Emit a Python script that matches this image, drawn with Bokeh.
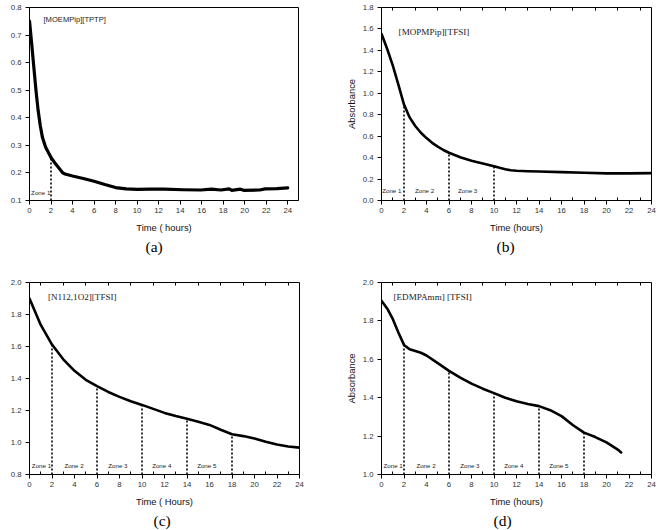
import numpy as np
from bokeh.plotting import figure
from bokeh.layouts import column, row
from bokeh.models import Range1d, FixedTicker, PrintfTickFormatter, Label, LinearAxis, Title
from bokeh.core.properties import value
from bokeh.embed import file_html
from bokeh.resources import INLINE

# ---------------- data ----------------
# (a) [MOEMPip][TPTP]
time_a = [0, 0.2, 0.4, 0.6, 0.8, 1.0, 1.2, 1.5, 2.0, 2.4, 2.9, 3.1, 3.3, 4, 5, 6, 7, 8, 9, 10,
          11.2, 12.5, 14.3, 15.9, 16.9, 17.8, 18.55, 18.8, 19.6, 19.9, 21.4, 21.9, 23, 24]
abs_a = [0.751, 0.67, 0.585, 0.50, 0.427, 0.372, 0.329, 0.293, 0.256, 0.234, 0.210, 0.200, 0.196,
         0.189, 0.180, 0.170, 0.158, 0.147, 0.142, 0.140,
         0.141, 0.141, 0.139, 0.138, 0.141, 0.138, 0.142, 0.137, 0.141, 0.137, 0.138, 0.142,
         0.143, 0.146]
zones_a = [2]
zone_text_a = ["Zone 1"]
zone_x_a = [0.15]

# (b) [MOPMPip][TFSI]
time_b = [0, 0.5, 1, 1.5, 2, 2.5, 3, 3.5, 4, 4.5, 5, 5.5, 6, 7, 8, 9, 10, 10.5, 11, 11.5, 12,
          13, 14, 16, 18, 20, 22, 24]
abs_b = [1.555, 1.415, 1.26, 1.08, 0.895, 0.775, 0.695, 0.632, 0.582, 0.538, 0.502, 0.471,
         0.445, 0.404, 0.371, 0.345, 0.320, 0.305, 0.292, 0.282, 0.277, 0.273, 0.270, 0.265,
         0.259, 0.253, 0.253, 0.255]
zones_b = [2, 6, 10]
zone_text_b = ["Zone 1", "Zone 2", "Zone 3"]
zone_x_b = [0.06, 2.97, 6.8]

# (c) [N112,1O2][TFSI]
time_c = list(range(0, 25))
abs_c = [1.90, 1.735, 1.612, 1.52, 1.448, 1.392, 1.352, 1.316, 1.285, 1.258, 1.235, 1.21,
         1.185, 1.165, 1.148, 1.13, 1.11, 1.08, 1.052, 1.04, 1.025, 1.005, 0.987, 0.975, 0.968]
zones_c = [2, 6, 10, 14, 18]
zone_text_c = ["Zone 1", "Zone 2", "Zone 3", "Zone 4", "Zone 5"]
zone_x_c = [0.21, 3.1, 7.0, 10.9, 14.9]

# (d) [EDMPAmm] [TFSI]
time_d = [0, 0.5, 1, 1.5, 2, 2.5, 3, 3.5, 4, 5, 6, 7, 8, 9, 10, 11, 12, 13, 14, 15, 16, 17,
          18, 19, 20, 21, 21.3]
abs_d = [1.905, 1.865, 1.81, 1.74, 1.675, 1.652, 1.643, 1.634, 1.62, 1.58, 1.54, 1.505, 1.473,
         1.447, 1.424, 1.40, 1.381, 1.367, 1.356, 1.335, 1.304, 1.258, 1.218, 1.195, 1.167,
         1.13, 1.115]
zones_d = [2, 6, 10, 14, 18]
zone_text_d = ["Zone 1", "Zone 2", "Zone 3", "Zone 4", "Zone 5"]
zone_x_d = [0.18, 3.1, 7.0, 10.9, 14.9]

x_ticks = list(range(0, 25, 2))
x_minor = list(range(1, 24, 2))

SANS = "Liberation Sans"
SERIF = "Liberation Serif"


def panel(t, a, xr, yr, yticks, borders, name, name_xy, name_font, name_size,
          zones, zone_text, zone_x, zone_y, xlabel, ylabel_inside, letter, letter_offset,
          line_w, minor, ylabel_x=None):
    left, right, top, bottom = borders
    p = figure(width=332, height=265, x_range=Range1d(*xr), y_range=Range1d(*yr),
               output_backend="svg", toolbar_location=None,
               min_border_left=left, min_border_right=right,
               min_border_top=top, min_border_bottom=bottom)
    p.grid.visible = False
    p.outline_line_color = "black"
    p.outline_line_width = 1
    p.background_fill_color = "white"
    p.border_fill_color = "white"

    # axes
    p.xaxis.ticker = FixedTicker(ticks=x_ticks, minor_ticks=x_minor if minor else [])
    p.xaxis.formatter = PrintfTickFormatter(format="%d")
    p.yaxis.ticker = FixedTicker(ticks=yticks, minor_ticks=[])
    p.yaxis.formatter = PrintfTickFormatter(format="%.1f")
    for ax in (p.xaxis[0], p.yaxis[0]):
        ax.axis_line_color = "black"
        ax.major_tick_line_color = "black"
        ax.minor_tick_line_color = "black"
        ax.major_tick_in = 0
        ax.major_tick_out = 4
        ax.minor_tick_in = 3
        ax.minor_tick_out = 0
        ax.major_label_text_font = SANS
        ax.major_label_text_font_size = "7.8px"
        ax.major_label_text_color = "#333333"
        ax.axis_label_text_font = SANS
        ax.axis_label_text_font_size = "9.4px"
        ax.axis_label_text_font_style = "normal"
        ax.axis_label_text_color = "#111111"
    p.xaxis.major_label_standoff = 3
    p.yaxis.major_label_standoff = 4
    p.xaxis.axis_label = xlabel
    p.xaxis.axis_label_standoff = 6

    if ylabel_inside:
        p.yaxis.axis_label = "Absorbance"
        p.yaxis.axis_label_standoff = 3
    else:
        p.add_layout(Label(x=ylabel_x, y=(yr[0] + yr[1]) / 2, text="Absorbance",
                           angle=np.pi / 2, text_align="center", text_baseline="middle",
                           text_font=SANS, text_font_size="9.4px", text_color="#111111"))

    if minor:
        # inward ticks along the top edge at the odd hours
        top_ax = LinearAxis(ticker=FixedTicker(ticks=[], minor_ticks=x_minor),
                            axis_line_color=None, major_tick_in=0, major_tick_out=0,
                            minor_tick_in=3, minor_tick_out=0,
                            minor_tick_line_color="black", major_label_standoff=0)
        p.add_layout(top_ax, "above")

    # dotted zone boundaries, from the axis up to the curve
    tops = np.interp(zones, t, a)
    p.segment(x0=zones, y0=[yr[0]] * len(zones), x1=zones, y1=list(tops),
              line_color="black", line_width=1.6, line_dash="2 2")

    # absorbance curve
    p.line(t, a, line_color="black", line_width=line_w, line_join="round", line_cap="round")

    # zone names
    p.text(x=zone_x, y=[zone_y] * len(zone_x), text=zone_text,
           text_font=value(SANS), text_font_size="6.2px",
           text_color="#222222", text_align="left", text_baseline="middle")

    # compound name
    p.add_layout(Label(x=name_xy[0], y=name_xy[1], text=name, text_font=name_font,
                       text_font_size=name_size, text_color="#222222",
                       text_align="left", text_baseline="middle"))

    # panel letter under the x axis title
    p.add_layout(Title(text=letter, align="left", text_font=SERIF,
                       text_font_size="15.5px", text_font_style="normal",
                       text_color="black", standoff=0, offset=letter_offset), "below")
    return p


pa = panel(time_a, abs_a, (0, 25), (0.1, 0.8), list(np.round(np.arange(0.1, 0.81, 0.1), 1)),
           (29, 34, 7, 65), "[MOEMPip][TPTP]", (1.3, 0.756), SANS, "7.6px",
           zones_a, zone_text_a, zone_x_a, 0.128, "Time ( hours)", False, "(a)", 116,
           3.2, False, ylabel_x=-2.6)

pb = panel(time_b, abs_b, (0, 24), (0, 1.8), list(np.round(np.arange(0, 1.81, 0.2), 1)),
           (49, 13, 5, 65), "[MOPMPip][TFSI]", (1.52, 1.573), SERIF, "9.1px",
           zones_b, zone_text_b, zone_x_b, 0.092, "Time (hours)", True, "(b)", 115,
           2.6, True)

pc = panel(time_c, abs_c, (0, 24), (0.8, 2.0), list(np.round(np.arange(0.8, 2.01, 0.2), 1)),
           (29, 33, 17, 53), "[N112,1O2][TFSI]", (1.64, 1.907), SERIF, "9.1px",
           zones_c, zone_text_c, zone_x_c, 0.858, "Time ( Hours)", False, "(c)", 124,
           2.6, True, ylabel_x=-2.55)

pd_ = panel(time_d, abs_d, (0, 24), (1.0, 2.0), list(np.round(np.arange(1.0, 2.01, 0.2), 1)),
            (49, 13, 15, 56), "[EDMPAmm] [TFSI]", (1.07, 1.923), SERIF, "9.1px",
            zones_d, zone_text_d, zone_x_d, 1.046, "Time (hours)", True, "(d)", 112,
            2.6, True)

layout = column(row(pa, pb), row(pc, pd_))
open("out.html", "w").write(file_html(layout, INLINE))
